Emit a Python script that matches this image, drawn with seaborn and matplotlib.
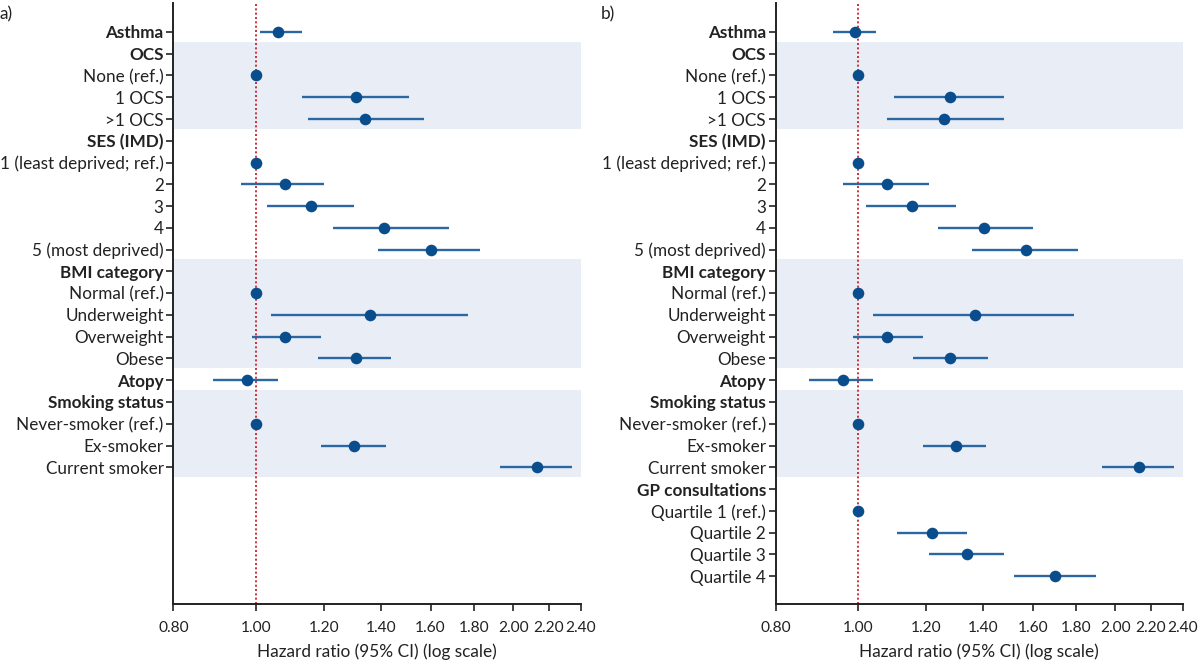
import numpy as np
import pandas as pd
import matplotlib
matplotlib.use("Agg")
import matplotlib.pyplot as plt
import seaborn as sns

nan = np.nan

# ---------------- data ----------------
rows_a = ["Asthma", "OCS", "None (ref.)", "1 OCS", ">1 OCS",
          "SES (IMD)", "1 (least deprived; ref.)", "2", "3", "4", "5 (most deprived)",
          "BMI category", "Normal (ref.)", "Underweight", "Overweight", "Obese",
          "Atopy", "Smoking status", "Never-smoker (ref.)", "Ex-smoker", "Current smoker"]
hr_a = [1.06, nan, 1.00, 1.31, 1.34, nan, 1.00, 1.08, 1.16, 1.41, 1.60,
        nan, 1.00, 1.36, 1.08, 1.31, 0.975, nan, 1.00, 1.30, 2.13]
lo_a = [1.01, nan, nan, 1.13, 1.15, nan, nan, 0.96, 1.03, 1.23, 1.39,
        nan, nan, 1.04, 0.99, 1.18, 0.89, nan, nan, 1.19, 1.93]
hi_a = [1.13, nan, nan, 1.51, 1.57, nan, nan, 1.20, 1.30, 1.68, 1.83,
        nan, nan, 1.77, 1.19, 1.44, 1.06, nan, nan, 1.42, 2.34]

rows_b = rows_a + ["GP consultations", "Quartile 1 (ref.)", "Quartile 2", "Quartile 3", "Quartile 4"]
hr_b = [0.99, nan, 1.00, 1.28, 1.26, nan, 1.00, 1.08, 1.155, 1.405, 1.57,
        nan, 1.00, 1.37, 1.08, 1.28, 0.96, nan, 1.00, 1.30, 2.13,
        nan, 1.00, 1.22, 1.34, 1.70]
lo_b = [0.935, nan, nan, 1.10, 1.08, nan, nan, 0.96, 1.02, 1.24, 1.36,
        nan, nan, 1.04, 0.986, 1.16, 0.876, nan, nan, 1.19, 1.93,
        nan, nan, 1.11, 1.21, 1.52]
hi_b = [1.05, nan, nan, 1.48, 1.48, nan, nan, 1.21, 1.30, 1.60, 1.81,
        nan, nan, 1.79, 1.19, 1.42, 1.04, nan, nan, 1.41, 2.34,
        nan, nan, 1.34, 1.48, 1.90]

bold_labels = ["Asthma", "OCS", "SES (IMD)", "BMI category", "Atopy",
               "Smoking status", "GP consultations"]
bands = [("OCS", ">1 OCS"), ("BMI category", "Obese"),
         ("Smoking status", "Current smoker")]

xticks = [0.80, 1.00, 1.20, 1.40, 1.60, 1.80, 2.00, 2.20, 2.40]
panel_tags = ["a)", "b)"]
xlabel = "Hazard ratio (95% CI) (log scale)"

# ---------------- style ----------------
sns.set_style("white")
plt.rcParams["font.family"] = ["Lato", "DejaVu Sans"]
FS_Y = 12.3
FS_X = 11.2
FS_L = 12.4
TXT = "#222222"
PT = "#0A4D8C"
LN = "#2B67A3"
BAND = "#E9EEF6"

fig = plt.figure(figsize=(12, 6.63), dpi=100)
ax_a = fig.add_axes([0.1445, 0.0890, 0.3397, 0.9065])
ax_b = fig.add_axes([0.6464, 0.0890, 0.3394, 0.9065])

N_TOTAL = len(rows_b)


def draw(ax, rows, hr, lo, hi):
    df = pd.DataFrame({"label": rows, "pos": np.arange(len(rows)),
                       "hr": hr, "lo": lo, "hi": hi})
    # bands
    for start, end in bands:
        p0 = df.loc[df.label == start, "pos"].iloc[0]
        p1 = df.loc[df.label == end, "pos"].iloc[0]
        ax.axhspan(p0 - 0.55, p1 + 0.45, color=BAND, zorder=0, lw=0)
    # reference line
    ax.axvline(1.0, color="#C8202A", ls=(0, (1.1, 1.3)), lw=1.3, zorder=1)
    # CIs
    ci = df.dropna(subset=["lo", "hi"])
    ax.hlines(ci["pos"], ci["lo"], ci["hi"], color=LN, lw=1.7, zorder=2)
    # points
    pts = df.dropna(subset=["hr"])
    sns.scatterplot(data=pts, x="hr", y="pos", ax=ax, color=PT, s=70,
                    edgecolor=PT, linewidth=0, zorder=3, legend=False)
    ax.set_xscale("log")
    ax.set_xlim(0.80, 2.40)
    ax.set_ylim(N_TOTAL - 1 + 1.28, -1.33)
    ax.set_xticks(xticks)
    ax.set_xticklabels([f"{t:.2f}" for t in xticks])
    ax.xaxis.set_minor_locator(matplotlib.ticker.NullLocator())
    ax.set_yticks(df["pos"])
    ax.set_yticklabels(df["label"])
    for tick, lab, v in zip(ax.yaxis.get_major_ticks(), df["label"], df["hr"]):
        if lab in bold_labels:
            tick.label1.set_fontweight("bold")
        if np.isnan(v):
            tick.tick1line.set_visible(False)
    ax.tick_params(axis="both", colors=TXT, length=5, width=1.2,
                   direction="out", left=True, bottom=True)
    ax.tick_params(axis="y", labelsize=FS_Y, pad=2)
    ax.tick_params(axis="x", labelsize=FS_X, pad=7)
    for s in ["top", "right"]:
        ax.spines[s].set_visible(False)
    for s in ["left", "bottom"]:
        ax.spines[s].set_color("#222222")
        ax.spines[s].set_linewidth(1.4)
    ax.set_xlabel(xlabel, fontsize=FS_L, color=TXT, labelpad=6)
    ax.set_ylabel("")
    ax.set_facecolor("white")


draw(ax_a, rows_a, hr_a, lo_a, hi_a)
draw(ax_b, rows_b, hr_b, lo_b, hi_b)

fig.text(0.0, 0.99, panel_tags[0], fontsize=FS_L, color=TXT, va="top", ha="left")
fig.text(0.5005, 0.99, panel_tags[1], fontsize=FS_L, color=TXT, va="top", ha="left")

fig.savefig("out.png", dpi=100, facecolor="white")
